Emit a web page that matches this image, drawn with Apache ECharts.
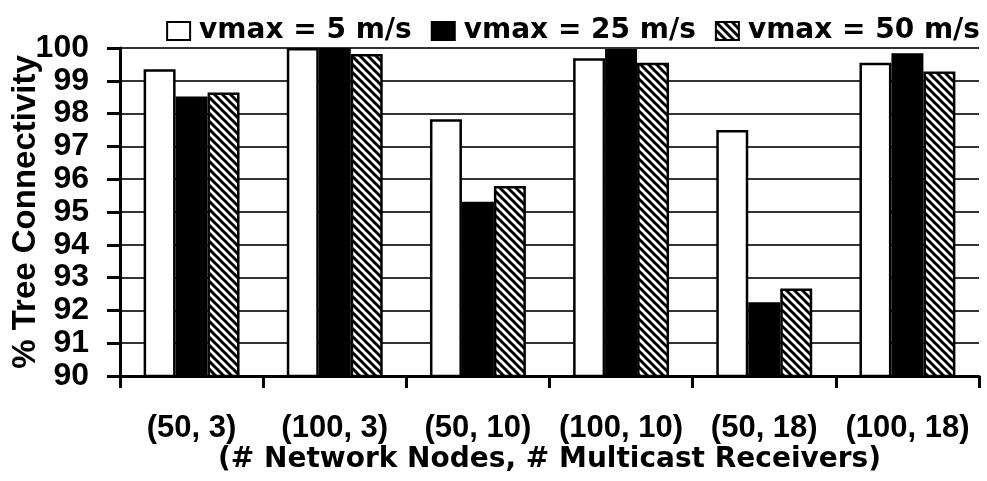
<!DOCTYPE html>
<html>
<head>
<meta charset="utf-8">
<script src="https://cdn.jsdelivr.net/npm/echarts@6/dist/echarts.min.js"></script>
<style>html,body{margin:0;padding:0;background:#fff;}#chart{width:987px;height:481px;}</style>
</head>
<body>
<div id="chart"></div>
<script>
const categories = ['(50, 3)', '(100, 3)', '(50, 10)', '(100, 10)', '(50, 18)', '(100, 18)'];
const seriesNames = ['vmax = 5 m/s', 'vmax = 25 m/s', 'vmax = 50 m/s'];
const vmax5 = [99.35, 100, 97.83, 99.69, 97.5, 99.55];
const vmax25 = [98.52, 100, 95.31, 99.97, 92.25, 99.84];
const vmax50 = [98.64, 99.82, 95.79, 99.55, 92.67, 99.28];
const yTicks = [90, 91, 92, 93, 94, 95, 96, 97, 98, 99, 100];

function hatch() {
  const c = document.createElement('canvas');
  c.width = 8; c.height = 8;
  const g = c.getContext('2d');
  g.fillStyle = '#fff'; g.fillRect(0, 0, 8, 8);
  g.strokeStyle = '#000'; g.lineWidth = 3;
  for (let k = -8; k <= 8; k += 8) {
    g.beginPath(); g.moveTo(k - 1, -1); g.lineTo(k + 9, 9); g.stroke();
  }
  return c;
}

const chart = echarts.init(document.getElementById('chart'), null, {renderer: 'canvas'});
const armFont = '"Liberation Sans", Arial, sans-serif';
const wideFont = '"DejaVu Sans", sans-serif';
const border = {borderColor: '#000', borderWidth: 2.5};
chart.setOption({
  backgroundColor: '#fff',
  animation: false,
  grid: {left: 120, right: 8, top: 48, bottom: 105, containLabel: false, outerBoundsMode: 'none'},
  legend: {
    right: 2, top: 12,
    itemWidth: 23, itemHeight: 18, itemGap: 19,
    icon: 'rect',
    textStyle: {fontFamily: wideFont, fontWeight: 'bold', fontSize: 28, color: '#000', padding: [0, 0, 0, 4]},
    data: seriesNames
  },
  xAxis: {
    type: 'category',
    data: categories,
    axisLine: {lineStyle: {color: '#000', width: 3}},
    axisTick: {show: true, length: 12, lineStyle: {color: '#000', width: 3}},
    axisLabel: {interval: 0, fontFamily: armFont, fontWeight: 'bold', fontSize: 31, color: '#000', margin: 37},
    name: '(# Network Nodes, # Multicast Receivers)',
    nameLocation: 'middle',
    nameGap: 70,
    nameMoveOverlap: false,
    nameTextStyle: {fontFamily: wideFont, fontWeight: 'bold', fontSize: 28, color: '#000'}
  },
  yAxis: {
    type: 'value',
    min: yTicks[0], max: yTicks[yTicks.length - 1], interval: 1,
    axisLine: {show: true, lineStyle: {color: '#000', width: 3}},
    axisTick: {show: true, length: 13, lineStyle: {color: '#000', width: 3}},
    axisLabel: {fontFamily: armFont, fontWeight: 'bold', fontSize: 32, color: '#000', margin: 31},
    splitLine: {show: true, lineStyle: {color: '#333', width: 2}},
    name: '% Tree Connectivity',
    nameLocation: 'middle',
    nameRotate: 90,
    nameGap: 78,
    nameMoveOverlap: false,
    nameTextStyle: {fontFamily: armFont, fontWeight: 'bold', fontSize: 33, color: '#000'}
  },
  series: [
    {name: seriesNames[0], type: 'bar', data: vmax5, barGap: '0%', barCategoryGap: '33%',
     itemStyle: Object.assign({color: '#fff'}, border)},
    {name: seriesNames[1], type: 'bar', data: vmax25, barGap: '0%', barCategoryGap: '33%',
     itemStyle: Object.assign({color: '#000'}, border)},
    {name: seriesNames[2], type: 'bar', data: vmax50, barGap: '0%', barCategoryGap: '33%',
     itemStyle: Object.assign({color: {image: hatch(), repeat: 'repeat'}}, border)}
  ]
});
</script>
</body>
</html>
